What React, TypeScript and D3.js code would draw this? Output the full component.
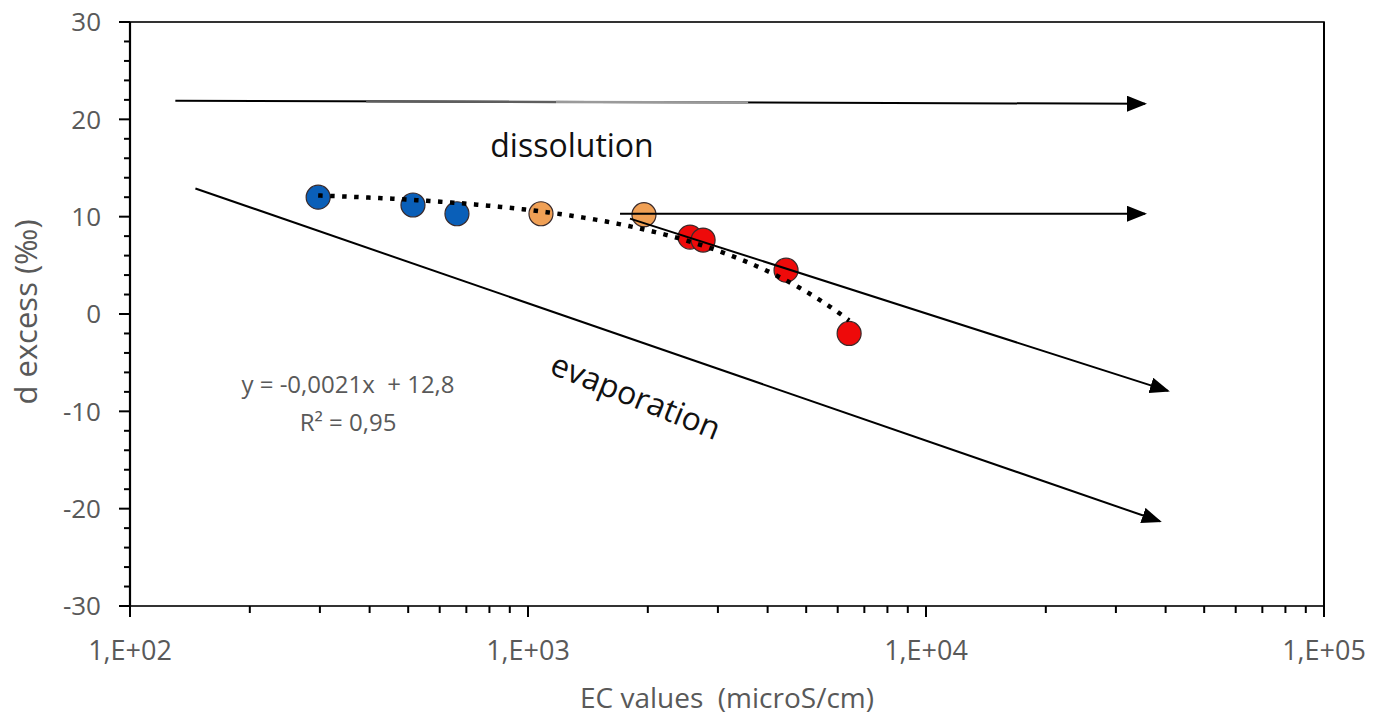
import React from "react";
import * as d3 from "d3";

// ---- data ----
const ecValues = [297, 514, 663, 1078, 1956, 2553, 2754, 4450, 6410];
const dExcess = [12.0, 11.2, 10.3, 10.3, 10.2, 7.9, 7.6, 4.5, -2.0];
const groups = ["fresh", "fresh", "fresh", "mid", "mid", "saline", "saline", "saline", "saline"];
const groupColors: Record<string, string> = { fresh: "#0a5fb8", mid: "#f0a055", saline: "#ee0a0a" };

const trendSlope = -0.0021;
const trendIntercept = 12.8;

const xTickValues = [1e2, 1e3, 1e4, 1e5];
const xTickLabels = ["1,E+02", "1,E+03", "1,E+04", "1,E+05"];
const yTickValues = [-30, -20, -10, 0, 10, 20, 30];

// arrows: start / end in data coordinates
const arrowStartX = [130, 1703, 1804, 146];
const arrowStartY = [21.9, 10.3, 9.8, 12.9];
const arrowEndX = [35500, 35500, 40550, 38700];
const arrowEndY = [21.6, 10.3, -7.9, -21.3];
// greyish rendering segments along the top arrow (x in data units)
const topArrowGreyFrom = [392, 1176];
const topArrowGreyTo = [1176, 3573];
const topArrowGreyColor = ["#5e5e5e", "#9a9a9a"];

const FONT = "'Open Sans', 'Noto Sans', sans-serif";
const GREY = "#595959";

export default function App() {
  const W = 1384, H = 719;
  const x = d3.scaleLog().domain([100, 1e5]).range([130, 1324]);
  const y = d3.scaleLinear().domain([-30, 30]).range([606, 22]);

  const minorX: number[] = [];
  for (let e = 2; e < 5; e++) for (let m = 2; m <= 9; m++) minorX.push(m * Math.pow(10, e));
  const minorY = d3.range(-30, 31, 2).filter((v) => v % 10 !== 0);

  const xmin = d3.min(ecValues)!, xmax = d3.max(ecValues)!;
  const trendX = d3.range(0, 201).map((i) => Math.exp(Math.log(xmin) + (i / 200) * (Math.log(xmax) - Math.log(xmin))));
  const trendLine = d3.line<number>().x((v) => x(v)).y((v) => y(trendSlope * v + trendIntercept));

  const points = ecValues.map((v, i) => ({ ec: v, d: dExcess[i], g: groups[i] }));

  const tx0 = x(arrowStartX[0]), ty0 = y(arrowStartY[0]), tx1 = x(arrowEndX[0]), ty1 = y(arrowEndY[0]);
  const topY = (px: number) => ty0 + ((px - tx0) / (tx1 - tx0)) * (ty1 - ty0);

  return (
    <svg width={W} height={H} style={{ position: "absolute", left: 0, top: 0, background: "#fff" }}>
      <defs>
        <marker id="ah" viewBox="0 0 20 16" refX="18" refY="8" markerWidth="20" markerHeight="16" markerUnits="userSpaceOnUse" orient="auto">
          <path d="M0,0 L20,8 L0,16 Z" fill="#000" />
        </marker>
      </defs>
      <rect x={0} y={0} width={W} height={H} fill="#fff" />
      {/* frame */}
      <rect x={x(100)} y={y(30)} width={x(1e5) - x(100)} height={y(-30) - y(30)} fill="none" stroke="#000" strokeWidth={1.6} />
      <line x1={x(100)} x2={x(100)} y1={y(30)} y2={y(-30)} stroke="#000" strokeWidth={2.2} />
      <line x1={x(1e5)} x2={x(1e5)} y1={y(30)} y2={y(-30)} stroke="#000" strokeWidth={2} />
      {/* y ticks */}
      {yTickValues.map((v) => (
        <g key={"yt" + v}>
          <line x1={x(100) - 11} x2={x(100)} y1={y(v)} y2={y(v)} stroke="#000" strokeWidth={2} />
          <text x={101} y={y(v)} dy="0.36em" textAnchor="end" fontFamily={FONT} fontSize={26} fill={GREY}>{v}</text>
        </g>
      ))}
      {minorY.map((v) => (
        <line key={"ym" + v} x1={x(100) - 6} x2={x(100)} y1={y(v)} y2={y(v)} stroke="#000" strokeWidth={2} />
      ))}
      {/* x ticks */}
      {xTickValues.map((v, i) => (
        <g key={"xt" + v}>
          <line x1={x(v)} x2={x(v)} y1={y(-30)} y2={y(-30) + 11} stroke="#000" strokeWidth={2} />
          <text x={x(v)} y={650} dy="0.36em" textAnchor="middle" fontFamily={FONT} fontSize={27} fill={GREY}>{xTickLabels[i]}</text>
        </g>
      ))}
      {minorX.map((v) => (
        <line key={"xm" + v} x1={x(v)} x2={x(v)} y1={y(-30)} y2={y(-30) + 7} stroke="#000" strokeWidth={2} />
      ))}
      {/* axis titles */}
      <text x={727} y={698} dy="0.36em" textAnchor="middle" fontFamily={FONT} fontSize={28} fill={GREY} style={{ whiteSpace: "pre" }}>{"EC values  (microS/cm)"}</text>
      <text transform={`translate(26,312) rotate(-90)`} dy="0.36em" textAnchor="middle" fontFamily={FONT} fontSize={31} fill={GREY}>d excess (‰)</text>

      {/* points */}
      {points.map((p, i) => (
        <circle key={"p" + i} cx={x(p.ec)} cy={y(p.d)} r={12} fill={groupColors[p.g]} stroke="#3a2a2a" strokeWidth={1.2} />
      ))}

      {/* trend line */}
      <path d={trendLine(trendX) || ""} fill="none" stroke="#000" strokeWidth={4.5} strokeDasharray="4.5 7.5" />

      {/* arrows */}
      {arrowStartX.map((sx, i) => (
        <line key={"ar" + i} x1={x(sx)} y1={y(arrowStartY[i])} x2={x(arrowEndX[i])} y2={y(arrowEndY[i])} stroke="#000" strokeWidth={2} markerEnd="url(#ah)" />
      ))}
      {topArrowGreyFrom.map((f, i) => (
        <line key={"tg" + i} x1={x(f)} x2={x(topArrowGreyTo[i])} y1={topY(x(f))} y2={topY(x(topArrowGreyTo[i]))} stroke={topArrowGreyColor[i]} strokeWidth={2.4} />
      ))}

      {/* annotations */}
      <text x={572} y={145} dy="0.36em" textAnchor="middle" fontFamily={FONT} fontSize={32} fill="#111">dissolution</text>
      <text transform={`translate(636,396) rotate(22)`} dy="0.36em" textAnchor="middle" fontFamily={FONT} fontSize={32} fill="#111">evaporation</text>
      <text x={348} y={384} dy="0.36em" textAnchor="middle" fontFamily={FONT} fontSize={24} fill={GREY} style={{ whiteSpace: "pre" }}>{"y = -0,0021x  + 12,8"}</text>
      <text x={348} y={422} dy="0.36em" textAnchor="middle" fontFamily={FONT} fontSize={24} fill={GREY}>R² = 0,95</text>
    </svg>
  );
}
